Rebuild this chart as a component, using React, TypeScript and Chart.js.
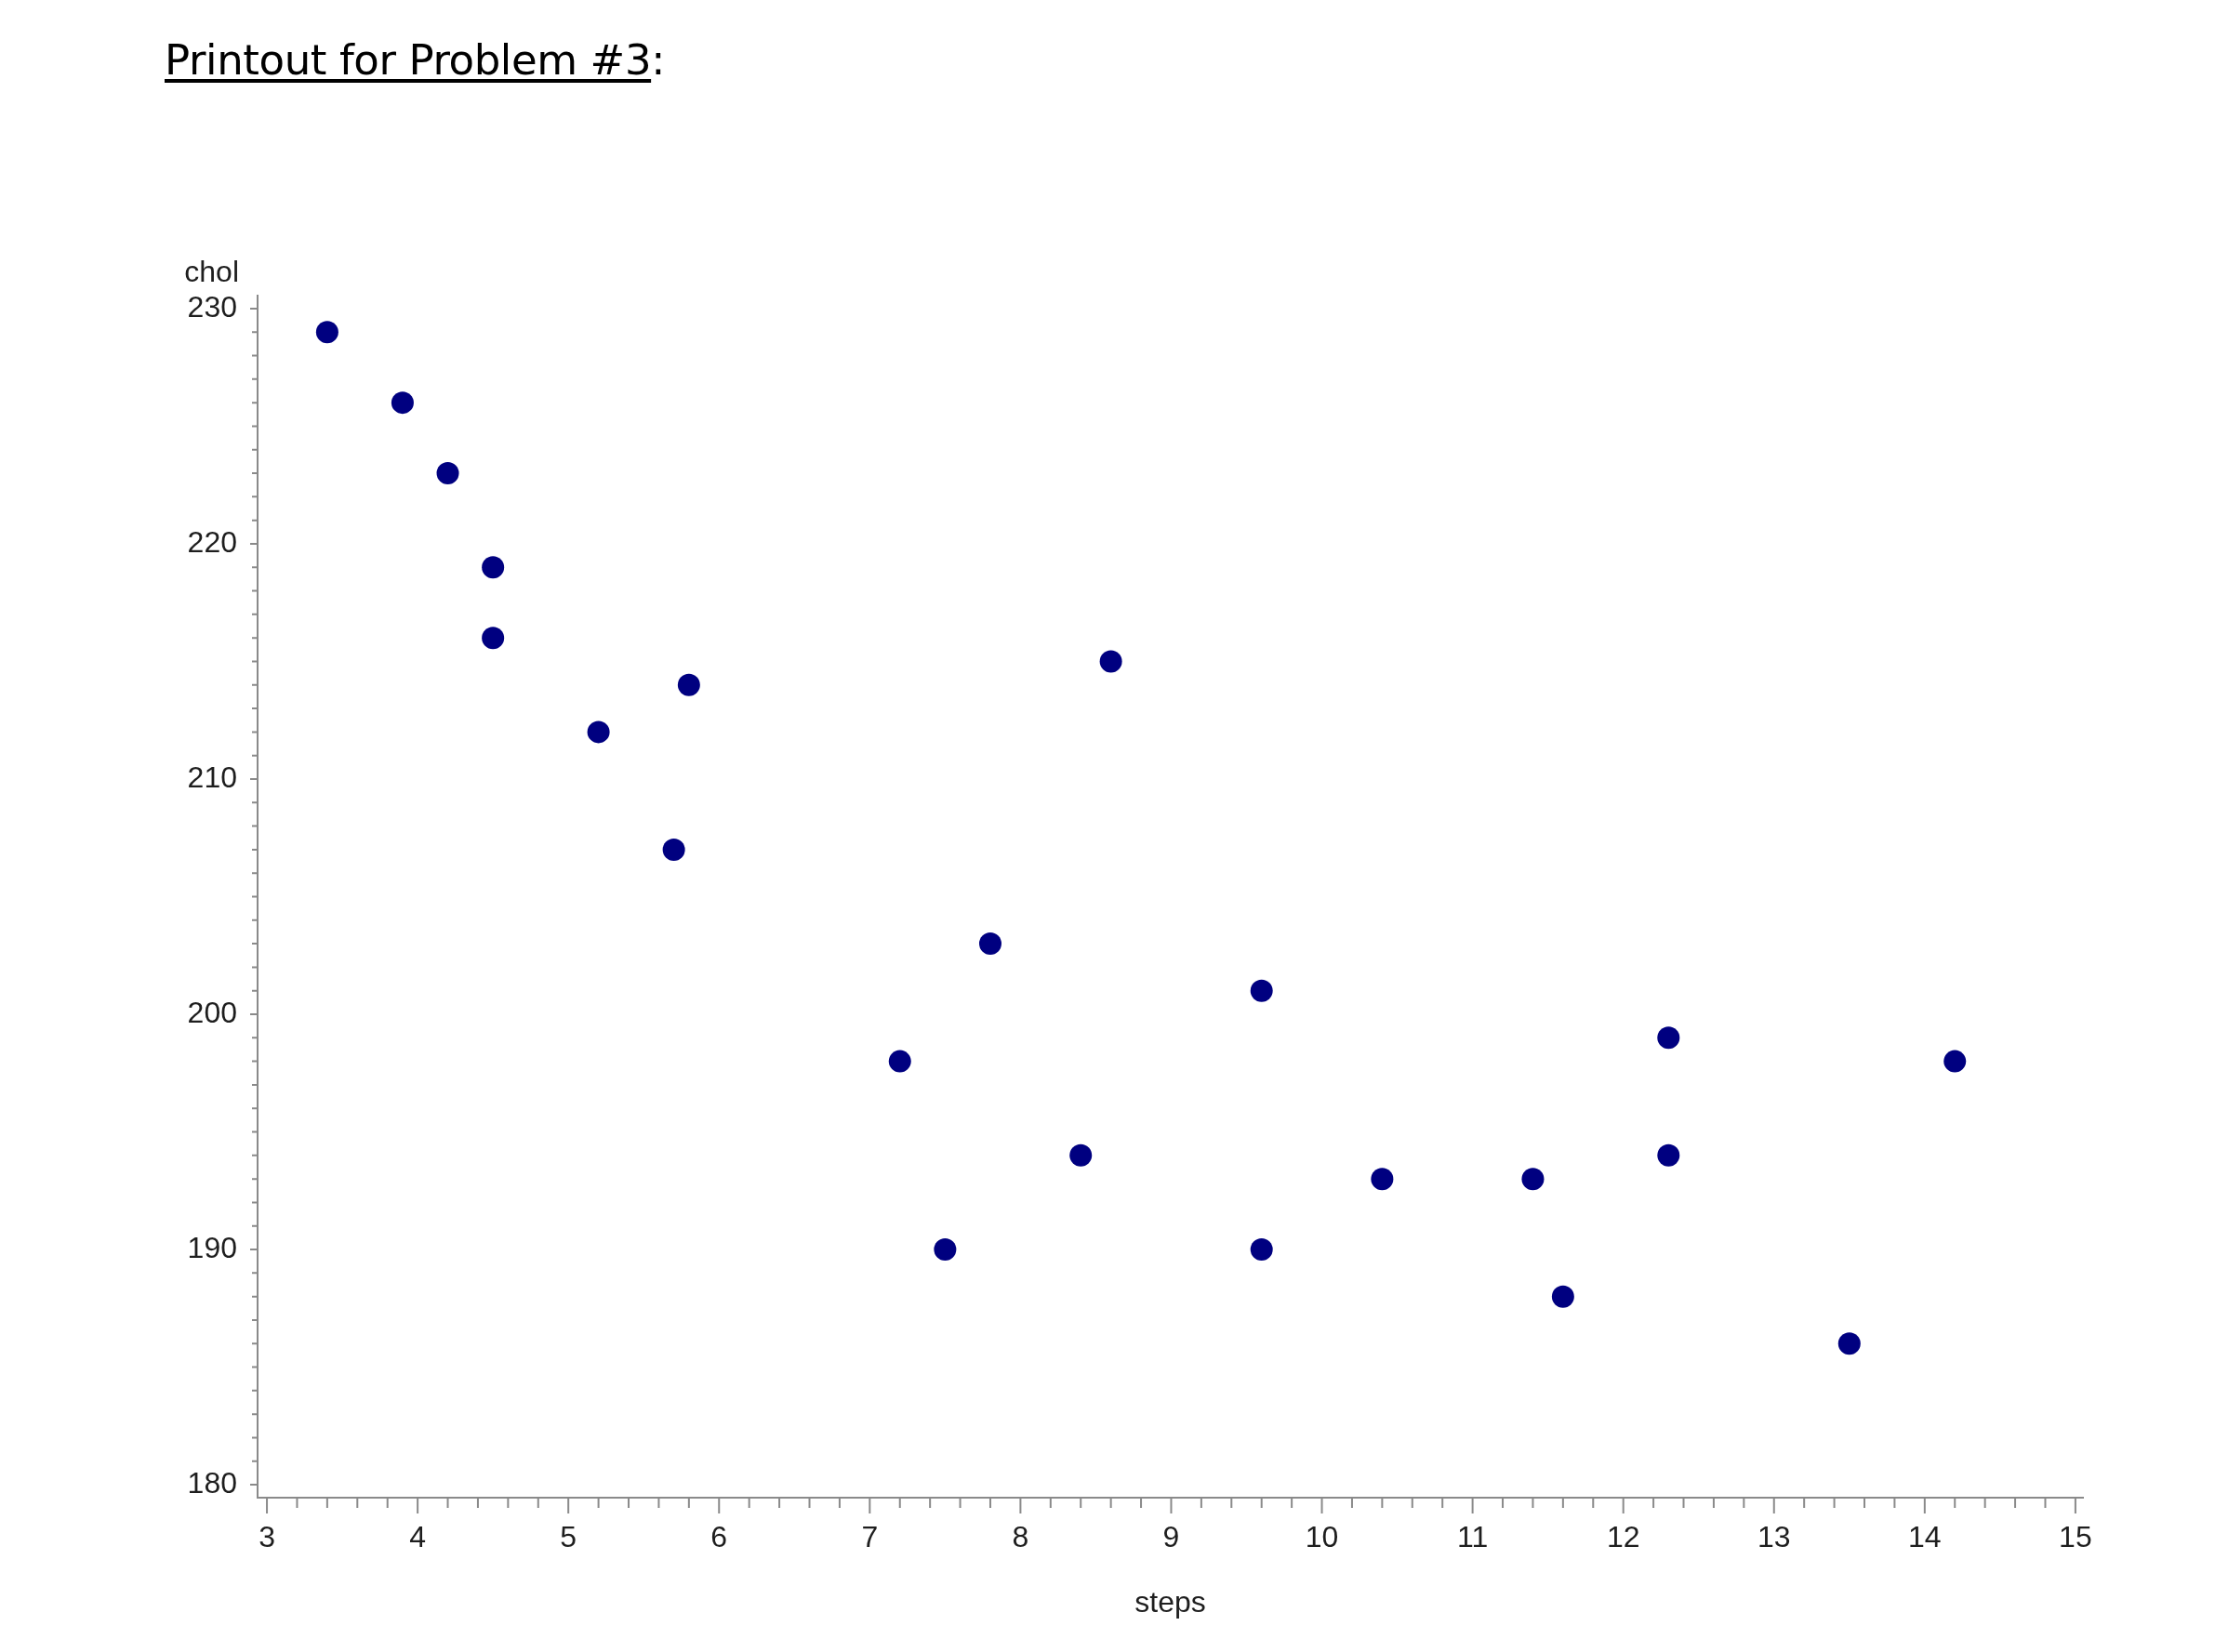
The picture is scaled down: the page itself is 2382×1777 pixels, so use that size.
import React, { useEffect, useRef } from 'react';
import { Chart, registerables } from 'chart.js';

Chart.register(...registerables);

// ---- data ----
const steps = [3.4, 3.9, 4.2, 4.5, 4.5, 5.2, 5.8, 5.7, 8.6, 7.2, 7.8, 7.5, 8.4, 9.6, 9.6, 10.4, 11.4, 11.6, 12.3, 12.3, 13.5, 14.2];
const chol = [229, 226, 223, 219, 216, 212, 214, 207, 215, 198, 203, 190, 194, 201, 190, 193, 193, 188, 199, 194, 186, 198];

const xMajorTicks = [3, 4, 5, 6, 7, 8, 9, 10, 11, 12, 13, 14, 15];
const yMajorTicks = [180, 190, 200, 210, 220, 230];
const xMinorPerMajor = 5; // minor tick every 0.2
const yMinorPerMajor = 10; // minor tick every 1

const xMin = 2.938;
const xMax = 15.05;
const yMin = 179.45;
const yMax = 230.55;

const xTitle = 'steps';
const yTitle = 'chol';
const pageTitle = 'Printout for Problem #3';

const AXIS_COLOR = '#8a8a8a';
const TEXT_COLOR = '#1e1e1e';
const POINT_COLOR = '#000080';
const FONT = '"Liberation Sans", Arial, sans-serif';

const tickPlugin = {
  id: 'sasTicks',
  afterDraw(chart: any) {
    const { ctx, scales, chartArea } = chart;
    const x = scales.x;
    const y = scales.y;
    ctx.save();
    ctx.strokeStyle = AXIS_COLOR;
    ctx.lineWidth = 2;
    ctx.beginPath();
    // x ticks
    for (let m = 0; m < xMajorTicks.length; m++) {
      const v0 = xMajorTicks[m];
      const px = x.getPixelForValue(v0);
      ctx.moveTo(px, chartArea.bottom);
      ctx.lineTo(px, chartArea.bottom + 17);
      if (m < xMajorTicks.length - 1) {
        const v1 = xMajorTicks[m + 1];
        for (let k = 1; k < xMinorPerMajor; k++) {
          const p = x.getPixelForValue(v0 + ((v1 - v0) * k) / xMinorPerMajor);
          ctx.moveTo(p, chartArea.bottom);
          ctx.lineTo(p, chartArea.bottom + 11);
        }
      }
    }
    // y ticks
    for (let m = 0; m < yMajorTicks.length; m++) {
      const v0 = yMajorTicks[m];
      const py = y.getPixelForValue(v0);
      ctx.moveTo(chartArea.left, py);
      ctx.lineTo(chartArea.left - 8, py);
      if (m < yMajorTicks.length - 1) {
        const v1 = yMajorTicks[m + 1];
        for (let k = 1; k < yMinorPerMajor; k++) {
          const p = y.getPixelForValue(v0 + ((v1 - v0) * k) / yMinorPerMajor);
          ctx.moveTo(chartArea.left, p);
          ctx.lineTo(chartArea.left - 6, p);
        }
      }
    }
    ctx.stroke();
    // y axis title above the axis
    ctx.fillStyle = TEXT_COLOR;
    ctx.font = '32px ' + FONT;
    ctx.textAlign = 'right';
    ctx.textBaseline = 'alphabetic';
    ctx.fillText(yTitle, chartArea.left - 20, chartArea.top - 15);
    ctx.restore();
  },
};

export default function App() {
  const canvasRef = useRef<HTMLCanvasElement | null>(null);

  useEffect(() => {
    const canvas = canvasRef.current;
    if (!canvas) return;
    const data = steps.map((s, i) => ({ x: s, y: chol[i] }));
    const chart = new Chart(canvas, {
      type: 'scatter',
      data: {
        datasets: [
          {
            data,
            backgroundColor: POINT_COLOR,
            borderColor: POINT_COLOR,
            borderWidth: 0,
            pointRadius: 12,
            pointHoverRadius: 12,
            pointStyle: 'circle',
          },
        ],
      },
      plugins: [tickPlugin],
      options: {
        responsive: false,
        animation: false,
        devicePixelRatio: 1,
        layout: { padding: { left: 0, right: 142, top: 318, bottom: 0 } },
        plugins: {
          legend: { display: false },
          tooltip: { enabled: false },
        },
        scales: {
          x: {
            type: 'linear',
            position: 'bottom',
            min: xMin,
            max: xMax,
            afterBuildTicks: (scale: any) => {
              scale.ticks = xMajorTicks.map((v) => ({ value: v }));
            },
            afterFit: (scale: any) => {
              scale.height = 166;
            },
            grid: { display: false, drawTicks: false },
            border: { display: true, color: AXIS_COLOR, width: 2 },
            ticks: {
              padding: 25,
              color: TEXT_COLOR,
              font: { family: FONT, size: 32 },
              maxRotation: 0,
              autoSkip: false,
            },
            title: {
              display: true,
              text: xTitle,
              color: TEXT_COLOR,
              font: { family: FONT, size: 32 },
              padding: { top: 0, bottom: 33 },
            },
          },
          y: {
            type: 'linear',
            min: yMin,
            max: yMax,
            afterBuildTicks: (scale: any) => {
              scale.ticks = yMajorTicks.map((v) => ({ value: v }));
            },
            afterFit: (scale: any) => {
              scale.width = 277;
            },
            grid: { display: false, drawTicks: false },
            border: { display: true, color: AXIS_COLOR, width: 2 },
            ticks: {
              padding: 22,
              color: TEXT_COLOR,
              font: { family: FONT, size: 32 },
              autoSkip: false,
            },
          },
        },
      },
    });
    return () => chart.destroy();
  }, []);

  return (
    <div
      style={{
        position: 'fixed',
        left: 0,
        top: 0,
        width: 2382,
        height: 1777,
        background: '#ffffff',
        overflow: 'hidden',
      }}
    >
      <canvas
        ref={canvasRef}
        width={2382}
        height={1777}
        style={{ position: 'absolute', left: 0, top: 0, width: 2382, height: 1777 }}
      />
      <div
        style={{
          position: 'absolute',
          left: 177,
          top: 42,
          fontFamily: '"DejaVu Sans", sans-serif',
          fontSize: 45,
          lineHeight: '45px',
          letterSpacing: '-0.4px',
          color: '#000',
          whiteSpace: 'nowrap',
        }}
      >
        <span
          style={{
            textDecoration: 'underline',
            textDecorationThickness: '4px',
            textUnderlineOffset: '5px',
          }}
        >
          {pageTitle}
        </span>
        :
      </div>
    </div>
  );
}
